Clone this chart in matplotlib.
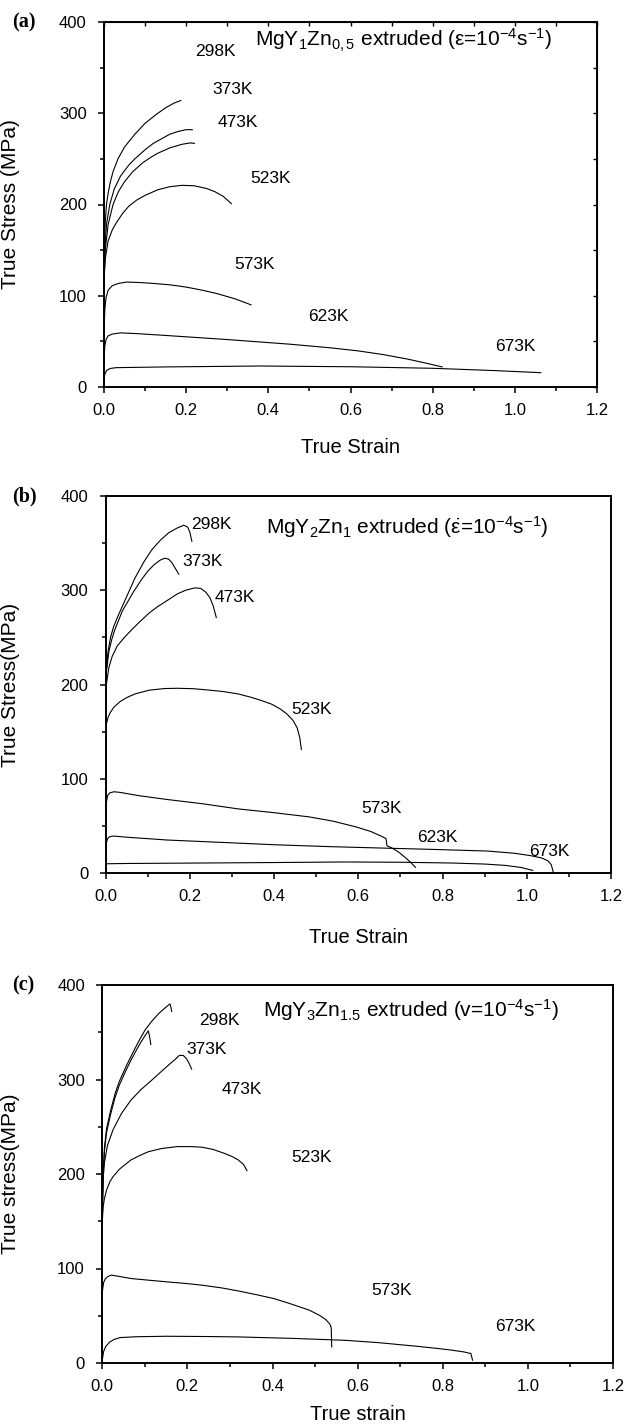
import matplotlib
matplotlib.use("Agg")
import matplotlib.pyplot as plt
from matplotlib.ticker import MultipleLocator, FormatStrFormatter

plt.rcParams['font.family'] = ['Liberation Sans', 'DejaVu Sans']
plt.rcParams['mathtext.fontset'] = 'custom'
plt.rcParams['mathtext.rm'] = 'Liberation Sans'
plt.rcParams['mathtext.it'] = 'Liberation Sans:italic'
plt.rcParams['mathtext.bf'] = 'Liberation Sans:bold'

# ---------------- data: panel (a) MgY1Zn0.5 ----------------
a298_x = [0, 0.001, 0.003, 0.006, 0.01, 0.015, 0.022, 0.034, 0.05, 0.075, 0.1, 0.128, 0.15, 0.17, 0.187]
a298_y = [110, 150, 180, 200, 212, 224, 236, 250, 263, 277, 289, 299, 306, 311, 314]
a373_x = [0, 0.002, 0.006, 0.014, 0.025, 0.04, 0.06, 0.075, 0.1, 0.12, 0.14, 0.16, 0.18, 0.2, 0.215]
a373_y = [110, 150, 178, 200, 217, 231, 243, 250, 260, 267, 272, 277, 280, 282, 282]
a473_x = [0, 0.003, 0.01, 0.022, 0.035, 0.05, 0.07, 0.095, 0.115, 0.13, 0.16, 0.19, 0.21, 0.22]
a473_y = [110, 150, 178, 200, 214, 225, 236, 246, 252, 256, 262, 266, 267.5, 267]
a523_x = [0, 0.003, 0.01, 0.02, 0.03, 0.045, 0.06, 0.08, 0.1, 0.13, 0.16, 0.19, 0.22, 0.25, 0.27, 0.29, 0.31]
a523_y = [120, 140, 160, 172, 180, 190, 198, 205, 210, 216, 219.5, 221, 220.5, 217.5, 214, 209, 201]
a573_x = [0, 0.002, 0.005, 0.01, 0.02, 0.035, 0.055, 0.087, 0.12, 0.16, 0.2, 0.24, 0.274, 0.32, 0.358]
a573_y = [60, 85, 98, 106, 111, 113.5, 115, 114.5, 113.5, 112, 109.5, 106, 102.5, 96.5, 90]
a623_x = [0, 0.002, 0.005, 0.01, 0.02, 0.04, 0.08, 0.15, 0.3, 0.45, 0.55, 0.62, 0.68, 0.74, 0.79, 0.823]
a623_y = [30, 45, 52, 56, 58, 59.3, 58.5, 56.5, 52, 47, 43, 39.5, 35.5, 30.5, 25.5, 22]
a673_x = [0, 0.002, 0.006, 0.015, 0.03, 0.15, 0.38, 0.6, 0.8, 0.95, 1.063]
a673_y = [8, 14, 18, 20.3, 21.2, 22, 23, 22.2, 20.5, 18, 15.7]

# ---------------- data: panel (b) MgY2Zn1 ----------------
b298_x = [0, 0.002, 0.006, 0.012, 0.019, 0.03, 0.053, 0.07, 0.091, 0.11, 0.13, 0.15, 0.17, 0.186, 0.195, 0.2, 0.205]
b298_y = [190, 215, 235, 250, 261, 273, 296, 313, 330, 343, 353, 361, 366, 369, 367, 362, 352]
b373_x = [0, 0.002, 0.008, 0.015, 0.022, 0.04, 0.066, 0.085, 0.1, 0.115, 0.13, 0.141, 0.15, 0.158, 0.166, 0.174]
b373_y = [190, 213, 235, 248, 258, 278, 298, 311, 320, 327, 332, 334, 333, 329, 323, 317]
b473_x = [0, 0.002, 0.008, 0.016, 0.028, 0.045, 0.062, 0.08, 0.104, 0.125, 0.146, 0.17, 0.19, 0.212, 0.226, 0.238, 0.248, 0.256, 0.263]
b473_y = [175, 200, 218, 230, 241, 250, 258, 266, 276, 283, 289, 296, 300, 302.5, 302, 298, 292, 283, 271]
b523_x = [0, 0.002, 0.006, 0.011, 0.02, 0.035, 0.05, 0.07, 0.104, 0.14, 0.171, 0.21, 0.247, 0.28, 0.315,
          0.345, 0.37, 0.395, 0.415, 0.43, 0.445, 0.455, 0.461, 0.465]
b523_y = [145, 158, 165, 170, 176, 182, 186, 190, 194, 195.7, 196, 195.5, 194, 192.5, 190,
          186.5, 183, 179, 174, 169, 162, 154, 144, 131]
b573_x = [0, 0.002, 0.005, 0.01, 0.02, 0.035, 0.08, 0.146, 0.23, 0.315, 0.4, 0.484, 0.54, 0.594, 0.63,
          0.655, 0.666, 0.668, 0.68, 0.695, 0.71, 0.725, 0.736]
b573_y = [55, 75, 82, 85, 86.2, 85.5, 82, 78, 73.5, 68, 64, 59.5, 55, 49, 44,
          39, 36.5, 29, 26.5, 22.5, 17, 11, 6]
b623_x = [0, 0.002, 0.005, 0.01, 0.019, 0.05, 0.146, 0.3, 0.4, 0.53, 0.653, 0.78, 0.906, 0.97, 1.008,
          1.035, 1.05, 1.058, 1.063]
b623_y = [25, 32, 36.5, 38.5, 39.2, 38, 35, 32, 30, 28, 26.5, 25, 23.3, 21, 18.5, 16, 13, 9, 1]
b673_x = [0, 0.003, 0.05, 0.23, 0.4, 0.568, 0.7, 0.822, 0.9, 0.948, 0.985, 1.014]
b673_y = [7, 9.8, 10.1, 10.6, 11.1, 11.7, 11.4, 10.6, 9.5, 8.1, 6, 2.8]

# ---------------- data: panel (c) MgY3Zn1.5 ----------------
c298_x = [0, 0.002, 0.005, 0.01, 0.02, 0.03, 0.04, 0.055, 0.068, 0.085, 0.1, 0.115, 0.133, 0.148, 0.159, 0.161, 0.163]
c298_y = [150, 200, 228, 248, 268, 285, 298, 313, 325, 340, 352, 361, 370, 376, 380, 377, 372]
c373_x = [0, 0.002, 0.005, 0.01, 0.02, 0.03, 0.04, 0.055, 0.068, 0.08, 0.09, 0.1, 0.108, 0.11, 0.112, 0.114]
c373_y = [150, 197, 224, 244, 264, 281, 294, 309, 321, 331, 339, 346, 351.5, 348, 343, 337]
c473_x = [0, 0.002, 0.005, 0.012, 0.025, 0.045, 0.067, 0.09, 0.118, 0.14, 0.16, 0.173, 0.181, 0.19, 0.198, 0.204, 0.21]
c473_y = [170, 195, 212, 230, 246.6, 264, 278, 289, 300, 309, 317, 322, 325.5, 325.5, 322, 317, 311]
c523_x = [0, 0.002, 0.005, 0.01, 0.018, 0.025, 0.04, 0.067, 0.09, 0.109, 0.14, 0.176, 0.21, 0.235, 0.26,
          0.286, 0.305, 0.319, 0.332, 0.34]
c523_y = [150, 165, 174, 183, 192, 197, 205, 214.8, 220, 223.7, 227, 229, 229, 228.3, 226,
          222, 218.5, 215, 210, 203.5]
c573_x = [0, 0.003, 0.007, 0.013, 0.021, 0.035, 0.067, 0.1, 0.151, 0.2, 0.235, 0.28, 0.319, 0.36, 0.403,
          0.44, 0.487, 0.51, 0.525, 0.535, 0.538, 0.539]
c573_y = [75, 85, 89, 91.5, 93, 92, 89.4, 88, 85.9, 84, 82.3, 79.5, 76.3, 72.5, 68.2,
          63, 55.8, 50.5, 46, 41, 37, 17]
c673_x = [0, 0.003, 0.008, 0.017, 0.028, 0.042, 0.08, 0.151, 0.25, 0.319, 0.45, 0.571, 0.65, 0.739, 0.79,
          0.824, 0.85, 0.866, 0.87]
c673_y = [3, 12, 17.5, 22, 25, 26.9, 27.8, 28.3, 28, 27.6, 26, 24, 21.5, 17.7, 15.3, 13.4, 11.7, 10, 3]

temps_a = ["298K", "373K", "473K", "523K", "573K", "623K", "673K"]
lab_a_x = [0.222, 0.263, 0.277, 0.355, 0.317, 0.497, 0.951]
lab_a_y = [367.5, 326, 290, 228, 134, 77, 44]
temps_b = ["298K", "373K", "473K", "523K", "573K", "623K", "673K"]
lab_b_x = [0.203, 0.182, 0.26, 0.44, 0.608, 0.739, 1.006]
lab_b_y = [370, 330, 292, 173, 68, 37.5, 23]
temps_c = ["298K", "373K", "473K", "523K", "573K", "673K"]
lab_c_x = [0.227, 0.197, 0.281, 0.443, 0.633, 0.924]
lab_c_y = [362, 332, 289, 217, 77, 39]

titles = [r"MgY$_1$Zn$_{0,5}$ extruded (ε=10$^{-4}$s$^{-1}$)",
          r"MgY$_2$Zn$_1$ extruded ($\dot{\mathrm{ε}}$=10$^{-4}$s$^{-1}$)",
          r"MgY$_3$Zn$_{1.5}$ extruded (v=10$^{-4}$s$^{-1}$)"]
title_x = [0.367, 0.38, 0.377]
title_y = [373, 360, 366]
ylabels = ["True Stress (MPa)", "True Stress(MPa)", "True stress(MPa)"]
xlabels = ["True Strain", "True Strain", "True strain"]
panel_tags = ["(a)", "(b)", "(c)"]

W, H = 625, 1428
fig = plt.figure(figsize=(W / 100, H / 100), dpi=100)

boxes = [(104, 597, 22, 387), (105.5, 611, 496, 873), (102.3, 613, 985, 1363)]
xlabel_off = [66, 70, 57]
curves = [
    [(a298_x, a298_y), (a373_x, a373_y), (a473_x, a473_y), (a523_x, a523_y),
     (a573_x, a573_y), (a623_x, a623_y), (a673_x, a673_y)],
    [(b298_x, b298_y), (b373_x, b373_y), (b473_x, b473_y), (b523_x, b523_y),
     (b573_x, b573_y), (b623_x, b623_y), (b673_x, b673_y)],
    [(c298_x, c298_y), (c373_x, c373_y), (c473_x, c473_y), (c523_x, c523_y),
     (c573_x, c573_y), (c673_x, c673_y)],
]
labels = [(temps_a, lab_a_x, lab_a_y), (temps_b, lab_b_x, lab_b_y), (temps_c, lab_c_x, lab_c_y)]

for i, (l, r, t, b) in enumerate(boxes):
    ax = fig.add_axes([l / W, 1 - b / H, (r - l) / W, (b - t) / H])
    for xs, ys in curves[i]:
        ax.plot(xs, ys, color='black', lw=0.8)
    names, lx, ly = labels[i]
    for n, x, y in zip(names, lx, ly):
        ax.text(x, y, n, fontsize=12.5, ha='left', va='center')
    ax.text(title_x[i], title_y[i], titles[i], fontsize=15, ha='left', va='baseline')
    ax.set_xlim(0, 1.2)
    ax.set_ylim(0, 400)
    ax.xaxis.set_major_locator(MultipleLocator(0.2))
    ax.xaxis.set_minor_locator(MultipleLocator(0.1))
    ax.yaxis.set_major_locator(MultipleLocator(100))
    ax.yaxis.set_minor_locator(MultipleLocator(50))
    ax.xaxis.set_major_formatter(FormatStrFormatter('%.1f'))
    ax.tick_params(which='major', direction='out', length=4.5, width=1.1, labelsize=12)
    ax.tick_params(which='minor', direction='out', length=2.8, width=1.1)
    ax.tick_params(axis='x', which='major', pad=7)
    ax.tick_params(axis='y', which='major', pad=8)
    for s in ax.spines.values():
        s.set_linewidth(1.4)
    ax.set_xlabel(xlabels[i], fontsize=14.5)
    ax.set_ylabel(ylabels[i], fontsize=15)
    ax.xaxis.label.set_va('baseline')
    wpx, hpx = r - l, b - t
    ax.yaxis.set_label_coords((20 - l) / wpx, 0.5)
    ax.xaxis.set_label_coords(0.5, -xlabel_off[i] / hpx)
    fig.text(12 / W, 1 - t / H, panel_tags[i], fontsize=14.5, fontweight='bold',
             family='Liberation Serif', ha='left', va='center')
    if i == 0:
        sx = ax.secondary_xaxis('top')
        sx.xaxis.set_major_locator(MultipleLocator(0.1))
        sx.tick_params(direction='in', length=3, width=1.0, labeltop=False)
        sy = ax.secondary_yaxis('right')
        sy.yaxis.set_major_locator(MultipleLocator(50))
        sy.tick_params(direction='in', length=3, width=1.0, labelright=False)

fig.savefig("out.png", dpi=100)
